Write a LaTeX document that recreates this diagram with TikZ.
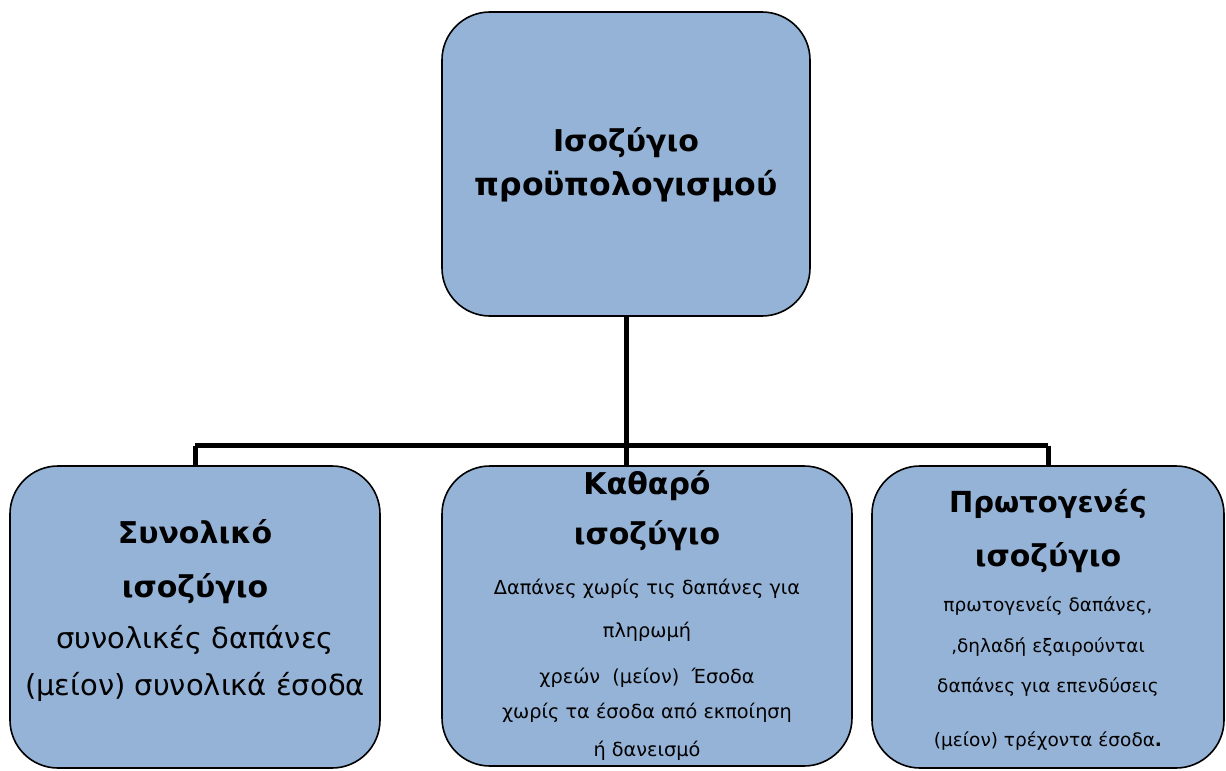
\documentclass[tikz,border=0pt]{standalone}
\usepackage{fontspec}
\setmainfont{DejaVu Sans}
\definecolor{panelblue}{RGB}{149,179,215}
\newcommand{\headfont}{\fontsize{30bp}{44bp}\selectfont\bfseries}
\newcommand{\bigbody}{\fontsize{29bp}{44bp}\selectfont\mdseries}
\newcommand{\smallbody}{\fontsize{19.3bp}{44bp}\selectfont\mdseries}
\newcommand{\tinybody}{\fontsize{18.5bp}{44bp}\selectfont\mdseries}
\begin{document}
\begin{tikzpicture}[x=1bp, y=-1bp,
    panel/.style={rectangle, draw=black, line width=1.6bp, fill=panelblue, rounded corners=48bp},
    link/.style={line width=5bp},
    panel text/.style={align=center, inner sep=0pt, font=\headfont}]
  \useasboundingbox (0,0) rectangle (1226,771);

  % boxes
  \node[panel, minimum width=368bp, minimum height=304bp] (budget) at (626,164) {};
  \node[panel, minimum width=370bp, minimum height=302bp] (total) at (195,617) {};
  \node[panel, minimum width=410bp, minimum height=300bp] (net) at (647,616) {};
  \node[panel, minimum width=352bp, minimum height=302bp] (primary) at (1048,617) {};

  % connectors
  \coordinate (bus) at ([yshift=-129bp]budget.south);
  \draw[link] (budget.south) -- (net.north -| budget.south);
  \draw[link] (total.north |- bus) -- (primary.north |- bus);
  \draw[link] (total.north |- bus) -- (total.north);
  \draw[link] (primary.north |- bus) -- (primary.north);

  % texts
  \node[panel text] (budget-text) at ([yshift=-1bp]budget.center) {Ισοζύγιο\\{\fontsize{31.5bp}{44bp}\selectfont προϋπολογισμού}};
  \node[panel text] (total-text) at ([yshift=6bp]total.center) {%
    Συνολικό\\[10bp]ισοζύγιο\\[7bp]{\bigbody συνολικές δαπάνες}\\[3bp]{\bigbody (μείον) συνολικά έσοδα}};
  \node[panel text] (net-text) at (net.center) {%
    Καθαρό\\[6bp]ισοζύγιο\\[6bp]{\smallbody Δαπάνες χωρίς τις δαπάνες για}\\[-1bp]{\smallbody πληρωμή}\\[2bp]%
    {\smallbody χρεών\ \ (μείον)\ \ Έσοδα}\\[-9bp]{\smallbody χωρίς τα έσοδα από εκποίηση}\\[-6bp]{\smallbody ή δανεισμό}};
  \node[panel text] (primary-text) at ([yshift=-3bp]primary.center) {%
    {\fontsize{29bp}{44bp}\selectfont Πρωτογενές}\\[10bp]ισοζύγιο\\[1bp]{\tinybody πρωτογενείς δαπάνες,}\\[-3bp]{\tinybody ,δηλαδή εξαιρούνται}\\[-4bp]%
    {\tinybody δαπάνες για επενδύσεις}\\[10bp]{\tinybody (μείον) τρέχοντα έσοδα\textbf{.}}};
\end{tikzpicture}
\end{document}
